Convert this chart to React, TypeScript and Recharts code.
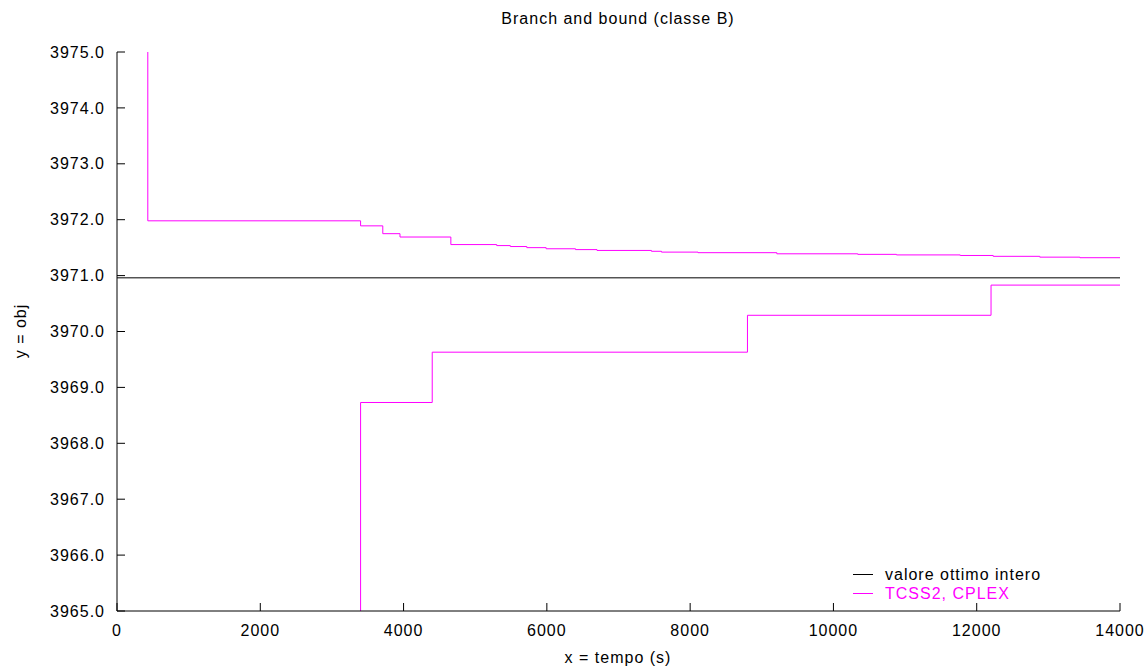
import React from 'react';
import { LineChart, Line, XAxis, YAxis } from 'recharts';

// tick values
const xTicks = [0, 2000, 4000, 6000, 8000, 10000, 12000, 14000];
const yTicks = [3965, 3966, 3967, 3968, 3969, 3970, 3971, 3972, 3973, 3974, 3975];

// valore ottimo intero (horizontal reference)
const ottimoTime = [0, 14000];
const ottimoObj = [3970.96, 3970.96];

// upper bound curve (TCSS2, CPLEX)
const upperTime = [430, 430, 3400, 3710, 3950, 4660, 5300, 5490, 5720, 5990, 6400, 6700, 7460, 7600, 8110, 9210, 10340, 10880, 11770, 12230, 12880, 13440, 14000];
const upperObj = [3975, 3971.98, 3971.89, 3971.75, 3971.69, 3971.555, 3971.537, 3971.52, 3971.5, 3971.48, 3971.465, 3971.45, 3971.435, 3971.42, 3971.41, 3971.39, 3971.38, 3971.37, 3971.36, 3971.345, 3971.33, 3971.32, 3971.32];

// lower bound curve (TCSS2, CPLEX)
const lowerTime = [3400, 3400, 4400, 8800, 12200, 14000];
const lowerObj = [3965, 3968.73, 3969.63, 3970.29, 3970.83, 3970.83];

const zip = (t: number[], v: number[]) => t.map((x, i) => ({ t: x, v: v[i] }));

const ottimoData = zip(ottimoTime, ottimoObj);
const upperData = zip(upperTime, upperObj);
const lowerData = zip(lowerTime, lowerObj);

const FONT = '"Liberation Sans", Arial, Helvetica, sans-serif';
const MAGENTA = '#ff00ff';
const tickStyle = { fontFamily: FONT, fontSize: 16, fill: '#000', letterSpacing: 1 };

export default function App() {
  return (
    <div style={{ position: 'absolute', left: 0, top: 0, width: 1146, height: 666, background: '#fff' }}>
      <LineChart width={1146} height={666} margin={{ top: 52, right: 26, bottom: 10, left: 0 }}>
        <XAxis
          type="number"
          dataKey="t"
          domain={[0, 14000]}
          ticks={xTicks}
          height={45}
          tickSize={-8}
          tickMargin={22}
          stroke="#000"
          tick={tickStyle}
          allowDataOverflow
        />
        <YAxis
          type="number"
          dataKey="v"
          domain={[3965, 3975]}
          ticks={yTicks}
          width={117}
          tickSize={-8}
          tickMargin={20}
          stroke="#000"
          tick={tickStyle}
          tickFormatter={(v: number) => v.toFixed(1)}
          allowDataOverflow
        />
        <Line data={ottimoData} dataKey="v" type="linear" stroke="#000" strokeWidth={1} dot={false} isAnimationActive={false} />
        <Line data={upperData} dataKey="v" type="stepAfter" stroke={MAGENTA} strokeWidth={1} dot={false} isAnimationActive={false} />
        <Line data={lowerData} dataKey="v" type="stepAfter" stroke={MAGENTA} strokeWidth={1} dot={false} isAnimationActive={false} />
      </LineChart>

      {/* title, axis labels and legend */}
      <svg
        width={1146}
        height={666}
        style={{ position: 'absolute', left: 0, top: 0, pointerEvents: 'none' }}
        fontFamily={FONT}
        fontSize={16}
        letterSpacing={1}
      >
        <text x={618} y={24} textAnchor="middle" fill="#000">Branch and bound (classe B)</text>
        <text x={618} y={663} textAnchor="middle" fill="#000">x = tempo (s)</text>
        <text x={26} y={331} textAnchor="middle" fill="#000" transform="rotate(-90 26 331)">y = obj</text>

        <line x1={853} x2={873} y1={574.5} y2={574.5} stroke="#000" strokeWidth={1} />
        <text x={885} y={580} fill="#000">valore ottimo intero</text>
        <line x1={853} x2={873} y1={593.5} y2={593.5} stroke={MAGENTA} strokeWidth={1} />
        <text x={885} y={599} fill={MAGENTA}>TCSS2, CPLEX</text>
      </svg>
    </div>
  );
}
